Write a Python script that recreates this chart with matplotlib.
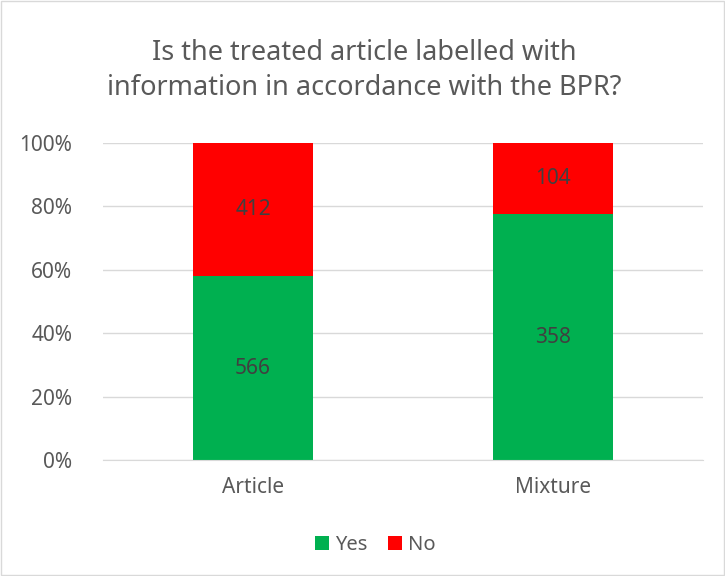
import numpy as np
import matplotlib.pyplot as plt
from matplotlib.patches import Rectangle
from matplotlib.ticker import PercentFormatter

plt.rcParams['font.family'] = ['Noto Sans', 'DejaVu Sans']

# Data
categories = ['Article', 'Mixture']
yes_counts = np.array([566, 358])
no_counts = np.array([412, 104])

totals = yes_counts + no_counts
yes_share = yes_counts / totals * 100
no_share = no_counts / totals * 100

text_color = '#595959'
green = '#00B050'
red = '#FF0000'

fig = plt.figure(figsize=(7.25, 5.76), dpi=100)
ax = fig.add_axes([0.1421, 0.2014, 0.8276, 0.5509])

x = np.arange(len(categories))
width = 0.4
bars_yes = ax.bar(x, yes_share, width, color=green, label='Yes', zorder=2)
bars_no = ax.bar(x, no_share, width, bottom=yes_share, color=red, label='No', zorder=2)

# Data labels with raw counts
for i in range(len(categories)):
    ax.text(x[i], yes_share[i] / 2, str(yes_counts[i]), ha='center', va='center',
            fontsize=15, color='#404040')
    ax.text(x[i], yes_share[i] + no_share[i] / 2, str(no_counts[i]), ha='center', va='center',
            fontsize=15, color='#404040')

ax.set_xlim(-0.5, 1.5)
ax.set_ylim(0, 100)
ax.set_yticks(np.arange(0, 101, 20))
ax.yaxis.set_major_formatter(PercentFormatter(decimals=0))
ax.set_xticks(x)
ax.set_xticklabels(categories)
ax.tick_params(axis='both', length=0, labelsize=15, colors=text_color)
ax.tick_params(axis='x', pad=12)
ax.tick_params(axis='y', pad=22)
ax.grid(axis='y', color='#d9d9d9', linewidth=1, zorder=0)
for side in ['top', 'right', 'left']:
    ax.spines[side].set_visible(False)
ax.spines['bottom'].set_color('#d9d9d9')

fig.text(0.503, 0.878, 'Is the treated article labelled with\ninformation in accordance with the BPR?',
         ha='center', va='center', fontsize=19.5, color=text_color, linespacing=1.35)

fig.legend(loc='center', bbox_to_anchor=(0.518, 0.054), ncol=2, frameon=False,
           fontsize=14.5, handlelength=0.7, handleheight=0.7, handletextpad=0.3,
           columnspacing=1.0, labelcolor=text_color)

# Light chart border
fig.patches.append(Rectangle((0.001, 0.001), 0.997, 0.997, transform=fig.transFigure,
                             fill=False, edgecolor='#d9d9d9', linewidth=1))

fig.savefig('out.png', dpi=100)
